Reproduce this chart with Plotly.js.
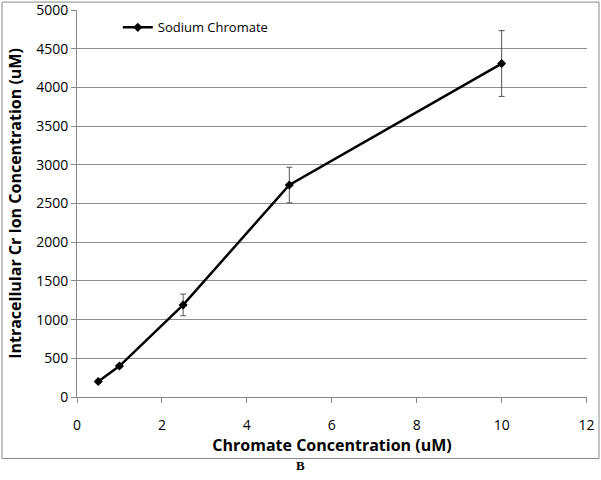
<!DOCTYPE html>
<html><head><meta charset="utf-8">
<script src="https://cdn.plot.ly/plotly-3.0.1.min.js"></script>
<style>html,body{margin:0;padding:0;background:#fff}#c{width:601px;height:480px}</style>
</head><body><div id="c"></div>
<script>
const concentration = [0.5, 1, 2.5, 5, 10];
const intracellular = [200, 400, 1190, 2740, 4310];
const errorValues = [15, 20, 140, 230, 425];
const seriesName = 'Sodium Chromate';
const xTitle = 'Chromate Concentration (uM)';
const yTitle = 'Intracellular Cr Ion Concentration (uM)';
const panelLabel = 'B';

const font = 'Open Sans, Noto Sans, sans-serif';
const trace = {
  x: concentration, y: intracellular, name: seriesName,
  type: 'scatter', mode: 'lines+markers',
  line: {color: '#000', width: 2.5},
  marker: {symbol: 'diamond', size: 7, color: '#000'},
  error_y: {type: 'data', array: errorValues, visible: true, color: '#555', thickness: 1, width: 3}
};
const layout = {
  width: 601, height: 480,
  margin: {l: 77, r: 14, t: 10, b: 83},
  paper_bgcolor: '#fff', plot_bgcolor: '#fff',
  font: {family: font, size: 13, color: '#000'},
  showlegend: true,
  legend: {x: 0.08, y: 0.955, xanchor: 'left', yanchor: 'middle', bgcolor: 'rgba(0,0,0,0)', font: {size: 13, family: font}},
  xaxis: {range: [0, 12.01], dtick: 2, tick0: 0, showgrid: false, zeroline: false,
    showline: true, linecolor: '#888', linewidth: 1, ticks: 'outside', ticklen: 5, tickcolor: '#888',
    ticklabelstandoff: 10,
    tickfont: {size: 14}, title: {text: '<b>' + xTitle + '</b>', font: {size: 16}, standoff: 4}},
  yaxis: {range: [0, 5002], dtick: 500, tick0: 0, showgrid: true, gridcolor: '#8c8c8c', gridwidth: 1,
    zeroline: false, showline: true, linecolor: '#888', linewidth: 1, ticks: 'outside', ticklen: 5, tickcolor: '#888',
    tickfont: {size: 14}, title: {text: '<b>' + yTitle + '</b>', font: {size: 16}, standoff: 10}},
  shapes: [{type: 'rect', xref: 'paper', yref: 'paper', x0: -0.147, x1: 1.0235, y0: -0.159, y1: 1.0205,
    line: {color: '#888', width: 1}, fillcolor: 'rgba(0,0,0,0)'}],
  annotations: [{text: '<b>' + panelLabel + '</b>', xref: 'paper', yref: 'paper', x: (300 - 77) / 510, y: -0.178,
    showarrow: false, font: {family: 'Liberation Serif, serif', size: 13}, xanchor: 'center', yanchor: 'middle'}]
};
Plotly.newPlot('c', [trace], layout, {displayModeBar: false, staticPlot: true});
</script></body></html>
